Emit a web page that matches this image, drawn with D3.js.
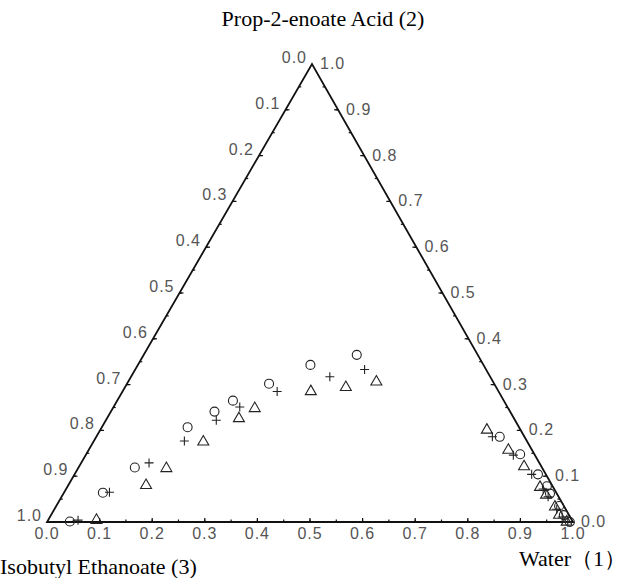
<!DOCTYPE html>
<html>
<head>
<meta charset="utf-8">
<script src="https://cdn.jsdelivr.net/npm/d3@7"></script>
<style>
  body { margin: 0; background: #fff; overflow: hidden; }
  svg { display: block; }
</style>
</head>
<body>
<script>
// tie-line data, mole fractions: water (1) and prop-2-enoate acid (2); (3) is the rest
const circleWater = [0.043, 0.074, 0.107, 0.163, 0.197, 0.220, 0.270, 0.328, 0.405,
                     0.767, 0.825, 0.881, 0.911, 0.925, 0.956, 0.975, 0.994];
const circleAcid  = [0.001, 0.064, 0.119, 0.207, 0.241, 0.265, 0.302, 0.343, 0.365,
                     0.186, 0.148, 0.104, 0.078, 0.062, 0.035, 0.015, 0.000];

const plusWater = [0.057, 0.086, 0.129, 0.172, 0.210, 0.240, 0.294, 0.378, 0.436,
                   0.753, 0.813, 0.869, 0.907, 0.925, 0.955, 0.974, 0.990];
const plusAcid  = [0.004, 0.065, 0.129, 0.177, 0.222, 0.251, 0.285, 0.317, 0.333,
                   0.186, 0.146, 0.104, 0.072, 0.055, 0.028, 0.011, 0.000];

const triWater = [0.092, 0.148, 0.168, 0.209, 0.251, 0.270, 0.358, 0.420, 0.472,
                  0.735, 0.798, 0.846, 0.899, 0.919, 0.949, 0.966, 0.988];
const triAcid  = [0.004, 0.080, 0.117, 0.175, 0.226, 0.248, 0.285, 0.294, 0.306,
                  0.201, 0.157, 0.121, 0.076, 0.059, 0.033, 0.015, 0.000];

const tickValues = d3.range(0, 11).map(i => i / 10);
const minorValues = d3.range(0, 20).map(i => i / 20 + 0.05).filter(v => v < 1);

const width = 629;
const height = 578;

// triangle corners: L = (47,522), R = (573,522), T = (312,64)
const xScale = d3.scaleLinear().domain([0, 1]).range([47, 573]);
const yScale = d3.scaleLinear().domain([0, 1]).range([522, 64]);
const apexShift = (312 - 47) / (573 - 47);

function px(w, a) { return xScale(w + a * apexShift); }
function py(a) { return yScale(a); }

const svg = d3.select("body").append("svg")
  .attr("width", width)
  .attr("height", height);

// frame
const corners = [[1, 0], [0, 1], [0, 0]];
svg.append("path")
  .attr("d", d3.line()(corners.map(c => [px(c[0], c[1]), py(c[1])])) + "Z")
  .attr("fill", "none")
  .attr("stroke", "#111")
  .attr("stroke-width", 1.8)
  .attr("stroke-linejoin", "miter");

// ticks
const tickG = svg.append("g").attr("stroke", "#111").attr("stroke-width", 1.2);
const allTicks = tickValues.filter(v => v > 0 && v < 1).map(v => ({ v, major: true }))
  .concat(minorValues.map(v => ({ v, major: false })));

allTicks.forEach(t => {
  const len = t.major ? 4 : 2.5;
  // bottom: water
  const bx = px(t.v, 0), by = py(0);
  tickG.append("line").attr("x1", bx).attr("y1", by).attr("x2", bx).attr("y2", by - len);
  // right: acid
  const rx = px(1 - t.v, t.v), ry = py(t.v);
  tickG.append("line").attr("x1", rx).attr("y1", ry).attr("x2", rx - len).attr("y2", ry);
  // left: ester
  const lx = px(0, 1 - t.v), ly = py(1 - t.v);
  tickG.append("line").attr("x1", lx).attr("y1", ly).attr("x2", lx + len).attr("y2", ly);
});

// tick labels
const labG = svg.append("g")
  .attr("font-family", "'Liberation Sans', Arial, sans-serif")
  .attr("font-size", 16)
  .attr("letter-spacing", 1)
  .attr("fill", "#555");

tickValues.forEach(v => {
  const s = v.toFixed(1);
  labG.append("text")
    .attr("x", px(v, 0)).attr("y", py(0) + 17)
    .attr("text-anchor", "middle").text(s);
  labG.append("text")
    .attr("x", px(1 - v, v) + 8).attr("y", py(v) + 5)
    .attr("text-anchor", "start").text(s);
  labG.append("text")
    .attr("x", px(0, 1 - v) - 5).attr("y", py(1 - v) - 1)
    .attr("text-anchor", "end").text(s);
});

// axis titles
const titleFont = "'Liberation Serif', 'Times New Roman', serif";
svg.append("text")
  .attr("x", 323).attr("y", 26)
  .attr("text-anchor", "middle")
  .attr("font-family", titleFont).attr("font-size", 22)
  .text("Prop-2-enoate Acid (2)");
svg.append("text")
  .attr("x", 0).attr("y", 574)
  .attr("font-family", titleFont).attr("font-size", 22)
  .text("Isobutyl Ethanoate (3)");
svg.append("text")
  .attr("x", 626).attr("y", 566)
  .attr("text-anchor", "end")
  .attr("font-family", titleFont).attr("font-size", 22)
  .text("Water（1）");

// markers
const markG = svg.append("g")
  .attr("fill", "none")
  .attr("stroke", "#222")
  .attr("stroke-width", 1.1);

markG.selectAll("circle.o")
  .data(d3.zip(circleWater, circleAcid))
  .enter().append("circle")
  .attr("class", "o")
  .attr("cx", d => px(d[0], d[1]))
  .attr("cy", d => py(d[1]))
  .attr("r", 4.5);

const plusPath = "M-4.5,0H4.5M0,-4.5V4.5";
markG.selectAll("path.plus")
  .data(d3.zip(plusWater, plusAcid))
  .enter().append("path")
  .attr("class", "plus")
  .attr("d", plusPath)
  .attr("transform", d => `translate(${px(d[0], d[1])},${py(d[1])})`);

const triSymbol = d3.symbol().type(d3.symbolTriangle).size(52);
markG.selectAll("path.tri")
  .data(d3.zip(triWater, triAcid))
  .enter().append("path")
  .attr("class", "tri")
  .attr("d", triSymbol)
  .attr("transform", d => `translate(${px(d[0], d[1])},${py(d[1])})`);
</script>
</body>
</html>
